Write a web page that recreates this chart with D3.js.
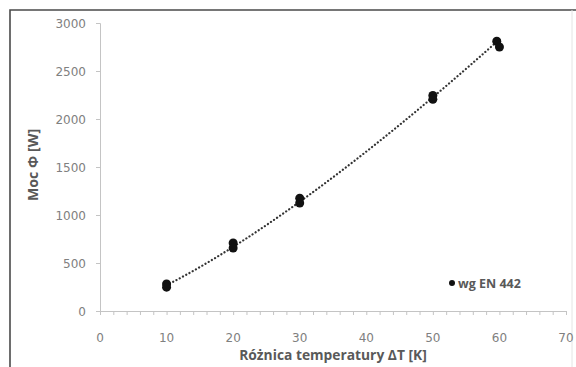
<!DOCTYPE html>
<html>
<head>
<meta charset="utf-8">
<script src="https://cdn.jsdelivr.net/npm/d3@7"></script>
<style>
  body { margin: 0; background: #fff; }
  svg { display: block; font-family: "Open Sans", sans-serif; }
</style>
</head>
<body>
<svg id="chart" width="576" height="367"></svg>
<script>
// measured points (wg EN 442)
var deltaT = [10, 10, 20, 20, 30, 30, 50, 50, 59.6, 60];
var power  = [282, 248, 708, 656, 1175, 1125, 2245, 2205, 2810, 2750];
var xTicks = [0, 10, 20, 30, 40, 50, 60, 70];
var yTicks = [0, 500, 1000, 1500, 2000, 2500, 3000];
var legendLabel = "wg EN 442";
var xTitle = "Różnica temperatury ΔT [K]";
var yTitle = "Moc Φ [W]";

var svg = d3.select("#chart");

var x = d3.scaleLinear().domain([0, 70]).range([100, 566]);
var y = d3.scaleLinear().domain([0, 3000]).range([311, 23]);

// outer frame (photo crop)
svg.append("path")
  .attr("d", "M10,367 V10 H576")
  .attr("fill", "none")
  .attr("stroke", "#4a4a4a")
  .attr("stroke-width", 1.6);
svg.append("line")
  .attr("x1", 572).attr("x2", 572).attr("y1", 10).attr("y2", 367)
  .attr("stroke", "#e4e4e4");

// x axis with minor ticks every 2
var xAxis = svg.append("g")
  .attr("transform", "translate(0," + y(0) + ")")
  .call(d3.axisBottom(x).tickValues(d3.range(0, 71, 2)).tickSize(4).tickFormat(""));
xAxis.select(".domain").attr("stroke", "#c4c4c4");
xAxis.selectAll(".tick line").attr("stroke", "#c4c4c4");

xTicks.forEach(function(t) {
  svg.append("text")
    .attr("x", x(t)).attr("y", 342)
    .attr("text-anchor", "middle")
    .attr("font-family", "DejaVu Sans")
    .attr("font-size", 12)
    .attr("fill", "#808080")
    .text(t);
});

// y axis
var yAxis = svg.append("g")
  .attr("transform", "translate(" + x(0) + ",0)")
  .call(d3.axisLeft(y).tickValues(yTicks).tickSize(4).tickFormat(""));
yAxis.select(".domain").attr("stroke", "#c4c4c4");
yAxis.selectAll(".tick line").attr("stroke", "#c4c4c4");

yTicks.forEach(function(t) {
  svg.append("text")
    .attr("x", 86).attr("y", y(t) + 4.5)
    .attr("text-anchor", "end")
    .attr("font-family", "DejaVu Sans")
    .attr("font-size", 12)
    .attr("fill", "#808080")
    .text(t);
});

// power-law trendline fitted in log space
var lx = deltaT.map(Math.log), ly = power.map(Math.log);
var mx = d3.mean(lx), my = d3.mean(ly);
var n = d3.sum(lx, function(v, i) { return (v - mx) * (ly[i] - my); }) /
        d3.sum(lx, function(v) { return (v - mx) * (v - mx); });
var a = Math.exp(my - n * mx);
var fitX = d3.range(10, 60.01, 0.5);
svg.append("path")
  .datum(fitX)
  .attr("d", d3.line().x(function(d) { return x(d); }).y(function(d) { return y(a * Math.pow(d, n)); }))
  .attr("fill", "none")
  .attr("stroke", "#333")
  .attr("stroke-width", 2.2)
  .attr("stroke-dasharray", "0.1 3.6")
  .attr("stroke-linecap", "round");

// points
svg.selectAll("circle.pt")
  .data(deltaT)
  .enter().append("circle")
  .attr("class", "pt")
  .attr("cx", function(d) { return x(d); })
  .attr("cy", function(d, i) { return y(power[i]); })
  .attr("r", 4.5)
  .attr("fill", "#111");

// legend
svg.append("circle").attr("cx", 452).attr("cy", 283).attr("r", 3).attr("fill", "#111");
svg.append("text")
  .attr("x", 458).attr("y", 287.5)
  .attr("font-size", 12.5)
  .attr("font-weight", "bold")
  .attr("fill", "#595959")
  .text(legendLabel);

// axis titles
svg.append("text")
  .attr("x", 333).attr("y", 360)
  .attr("text-anchor", "middle")
  .attr("font-size", 13.8)
  .attr("font-weight", "bold")
  .attr("fill", "#595959")
  .text(xTitle);
svg.append("text")
  .attr("transform", "translate(38,165) rotate(-90)")
  .attr("text-anchor", "middle")
  .attr("font-size", 14.2)
  .attr("font-weight", "bold")
  .attr("fill", "#595959")
  .text(yTitle);
</script>
</body>
</html>
